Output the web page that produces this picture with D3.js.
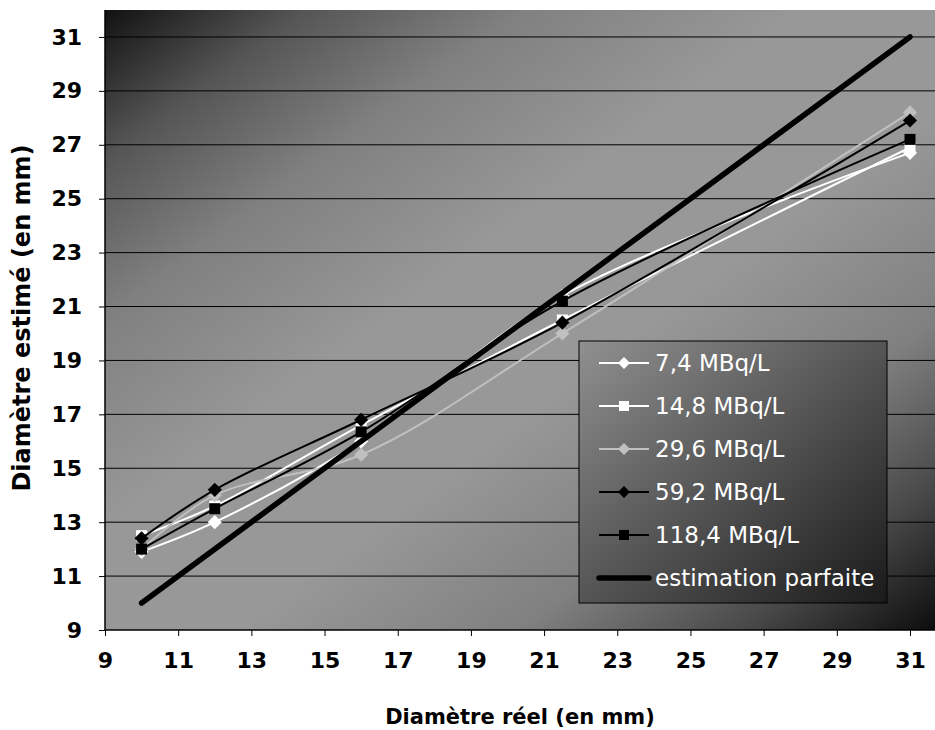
<!DOCTYPE html>
<html>
<head>
<meta charset="utf-8">
<script src="https://cdn.jsdelivr.net/npm/d3@7"></script>
<style>
  body { margin: 0; background: #fff; }
  text { font-family: "DejaVu Sans", Verdana, sans-serif; }
</style>
</head>
<body>
<svg id="chart" width="935" height="730"></svg>
<script>
// reel diameters (mm)
var diamReel = [10, 12, 16, 21.5, 31];
// estimated diameters per activity
var s7_4   = [11.9, 13.0, 16.0, 21.4, 26.7];
var s14_8  = [12.5, 13.6, 16.6, 20.5, 26.9];
var s29_6  = [12.0, 14.0, 15.5, 20.0, 28.2];
var s59_2  = [12.4, 14.2, 16.8, 20.4, 27.9];
var s118_4 = [12.0, 13.5, 16.35, 21.2, 27.2];
var parfaiteX = [10, 31];
var parfaiteY = [10, 31];
var tickVals = [9, 11, 13, 15, 17, 19, 21, 23, 25, 27, 29, 31];

var series = [
    {name: "7,4 MBq/L",   vals: s7_4,   color: "#ffffff", sym: "diamond"},
    {name: "14,8 MBq/L",  vals: s14_8,  color: "#ffffff", sym: "square"},
    {name: "29,6 MBq/L",  vals: s29_6,  color: "#c0c0c0", sym: "diamond"},
    {name: "59,2 MBq/L",  vals: s59_2,  color: "#000000", sym: "diamond"},
    {name: "118,4 MBq/L", vals: s118_4, color: "#000000", sym: "square"}
];

(function() {
var svg = d3.select("#chart");
var pL = 105, pR = 935, pT = 10, pB = 630;

var x = d3.scaleLinear().domain([9, 31]).range([pL, 910]);
var y = d3.scaleLinear().domain([9, 32]).range([pB, pT]);

var defs = svg.append("defs");
var bg = defs.append("linearGradient").attr("id", "bg")
    .attr("x1", 0).attr("y1", 0).attr("x2", 1).attr("y2", 1);
[[0, "#111"], [0.12, "#555"], [0.25, "#808080"], [0.42, "#989898"],
 [0.58, "#989898"], [0.75, "#808080"], [0.88, "#4a4a4a"], [1, "#0d0d0d"]].forEach(function(s) {
    bg.append("stop").attr("offset", s[0]).attr("stop-color", s[1]);
});
var lg = defs.append("linearGradient").attr("id", "lg")
    .attr("x1", 0).attr("y1", 0).attr("x2", 1).attr("y2", 1);
lg.append("stop").attr("offset", 0).attr("stop-color", "#909090");
lg.append("stop").attr("offset", 1).attr("stop-color", "#1a1a1a");

svg.append("rect")
    .attr("x", pL).attr("y", pT)
    .attr("width", pR - pL).attr("height", pB - pT)
    .attr("fill", "url(#bg)");

// gridlines
svg.append("g").selectAll("line")
    .data(tickVals.slice(1))
    .enter().append("line")
    .attr("x1", pL).attr("x2", pR)
    .attr("y1", function(d) { return y(d); })
    .attr("y2", function(d) { return y(d); })
    .attr("stroke", "#000").attr("stroke-width", 1);

// axes
var xAxis = svg.append("g")
    .attr("transform", "translate(0," + pB + ")")
    .call(d3.axisBottom(x).tickValues(tickVals).tickSize(6).tickPadding(16).tickSizeOuter(0));
var yAxis = svg.append("g")
    .attr("transform", "translate(" + pL + ",0)")
    .call(d3.axisLeft(y).tickValues(tickVals).tickSize(6).tickPadding(17).tickSizeOuter(0));
[xAxis, yAxis].forEach(function(a) {
    a.select(".domain").attr("stroke", "#000").attr("stroke-width", 1.5);
    a.selectAll(".tick line").attr("stroke", "#000");
    a.selectAll(".tick text")
        .attr("fill", "#000")
        .style("font-family", "'DejaVu Sans', Verdana, sans-serif")
        .style("font-weight", "bold")
        .style("font-size", "22px");
});
yAxis.select(".domain").attr("d", "M0," + pB + "V" + pT);
xAxis.select(".domain").attr("d", "M" + pL + ",0H" + pR);

var line = d3.line()
    .x(function(d) { return x(d[0]); })
    .y(function(d) { return y(d[1]); })
    .curve(d3.curveCatmullRom.alpha(0.5));

// Excel style markers: square, or square turned 45deg for the diamond
function marker(sel, sym, color, side) {
    var p = sel.append("path")
        .attr("d", d3.symbol().type(d3.symbolSquare).size(side * side)())
        .attr("fill", color);
    if (sym === "diamond") p.attr("transform", "rotate(45)");
    return p;
}

series.forEach(function(s) {
    var pts = diamReel.map(function(d, i) { return [d, s.vals[i]]; });
    svg.append("path")
        .datum(pts)
        .attr("fill", "none")
        .attr("stroke", s.color)
        .attr("stroke-width", 2)
        .attr("d", line);
    pts.forEach(function(p) {
        var g = svg.append("g").attr("transform", "translate(" + x(p[0]) + "," + y(p[1]) + ")");
        marker(g, s.sym, s.color, s.sym === "square" ? 11 : 10);
    });
});

// perfect estimation
svg.append("line")
    .attr("x1", x(parfaiteX[0])).attr("y1", y(parfaiteY[0]))
    .attr("x2", x(parfaiteX[1])).attr("y2", y(parfaiteY[1]))
    .attr("stroke", "#000").attr("stroke-width", 5.5)
    .attr("stroke-linecap", "round");

// legend
var leg = svg.append("g").attr("transform", "translate(579,341)");
leg.append("rect")
    .attr("width", 308).attr("height", 262)
    .attr("fill", "url(#lg)").attr("stroke", "#000").attr("stroke-width", 1);

var legItems = series.concat([{name: "estimation parfaite", color: "#000", sym: null}]);
legItems.forEach(function(s, i) {
    var cy = 22 + i * 43;
    if (s.sym) {
        leg.append("line").attr("x1", 20).attr("x2", 70)
            .attr("y1", cy).attr("y2", cy)
            .attr("stroke", s.color).attr("stroke-width", 2);
        var g = leg.append("g").attr("transform", "translate(45," + cy + ")");
        marker(g, s.sym, s.color, s.sym === "square" ? 10 : 8.5);
    } else {
        leg.append("line").attr("x1", 20).attr("x2", 70)
            .attr("y1", cy).attr("y2", cy)
            .attr("stroke", "#000").attr("stroke-width", 5.5)
            .attr("stroke-linecap", "round");
    }
    leg.append("text")
        .attr("x", 76).attr("y", cy + 8)
        .attr("fill", "#fff")
        .style("font-size", "23px")
        .text(s.name);
});

// axis titles
svg.append("text")
    .attr("x", 520).attr("y", 724)
    .attr("text-anchor", "middle")
    .style("font-size", "21px").style("font-weight", "bold")
    .text("Diamètre réel (en mm)");
svg.append("text")
    .attr("transform", "translate(30,318) rotate(-90)")
    .attr("text-anchor", "middle")
    .style("font-size", "24px").style("font-weight", "bold")
    .text("Diamètre estimé (en mm)");
})();
</script>
</body>
</html>
